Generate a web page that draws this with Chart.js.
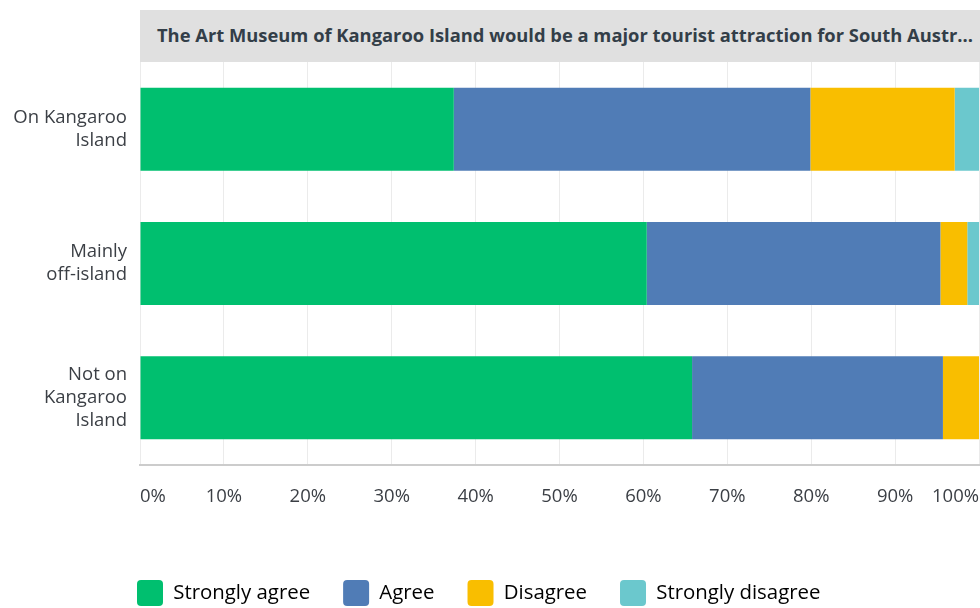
<!DOCTYPE html>
<html>
<head>
<meta charset="utf-8">
<script src="https://cdn.jsdelivr.net/npm/chart.js@4/dist/chart.umd.min.js"></script>
<style>
  html, body { margin: 0; padding: 0; background: #fff; }
  #wrap { position: relative; width: 980px; height: 608px; }
  #title {
    position: absolute; left: 140px; top: 10px; width: 823px; height: 52px;
    background: #e0e0e0; padding-left: 17px; box-sizing: content-box;
    font-family: "Open Sans", sans-serif; font-weight: 700; font-size: 18.35px;
    color: #333e48; line-height: 50px; white-space: nowrap; overflow: hidden;
  }
  canvas { position: absolute; left: 0; top: 0; }
</style>
</head>
<body>
<div id="wrap">
  <canvas id="c" width="980" height="608"></canvas>
  <div id="title">The Art Museum of Kangaroo Island would be a major tourist attraction for South Austr...</div>
</div>
<script>
const categories = [["On Kangaroo", "Island"], ["Mainly", "off-island"], ["Not on", "Kangaroo", "Island"]];
const seriesNames = ["Strongly agree", "Agree", "Disagree", "Strongly disagree"];
const stronglyAgree = [37.4, 60.4, 65.8];
const agree = [42.5, 35.0, 29.9];
const disagree = [17.2, 3.2, 4.3];
const stronglyDisagree = [2.9, 1.4, 0];
const tickValues = [0, 10, 20, 30, 40, 50, 60, 70, 80, 90, 100];
const colors = ["#00bf6f", "#507cb6", "#f9be00", "#6bc8cd"];

const seriesData = [stronglyAgree, agree, disagree, stronglyDisagree];
const font = "'Open Sans', sans-serif";
const textColor = '#3b3f45';

const legendShift = {
  id: 'legendShift',
  afterLayout(chart) {
    const lg = chart.legend;
    if (!lg) return;
    lg.left = 104;
    lg.top += 8;
    lg.bottom += 8;
    if (lg.adjustHitBoxes) lg.adjustHitBoxes();
  }
};

new Chart(document.getElementById('c'), {
  type: 'bar',
  data: {
    labels: categories,
    datasets: seriesNames.map((n, i) => ({
      label: n,
      data: seriesData[i],
      backgroundColor: colors[i],
      borderWidth: 0,
      barPercentage: 0.618,
      categoryPercentage: 1.0
    }))
  },
  plugins: [legendShift],
  options: {
    indexAxis: 'y',
    responsive: false,
    animation: false,
    layout: { padding: { top: 62, right: 1, left: 0, bottom: 0 } },
    plugins: {
      title: { display: false },
      tooltip: { enabled: false },
      legend: {
        position: 'bottom',
        align: 'start',
        labels: {
          boxWidth: 26,
          boxHeight: 26,
          padding: 33,
          color: textColor,
          font: { family: font, size: 20.4 },
          generateLabels(chart) {
            return chart.data.datasets.map((d, i) => ({
              text: d.label,
              fillStyle: d.backgroundColor,
              strokeStyle: d.backgroundColor,
              lineWidth: 0,
              borderRadius: 4,
              datasetIndex: i,
              hidden: false
            }));
          }
        }
      }
    },
    scales: {
      x: {
        stacked: true,
        min: 0,
        max: 100,
        afterBuildTicks(scale) { scale.ticks = tickValues.map(v => ({ value: v })); },
        afterFit(scale) { scale.height = 74; scale.paddingRight = 0; scale.paddingLeft = 0; },
        grid: { color: '#ebebeb', drawTicks: false, lineWidth: 1 },
        border: { color: '#cccccc', width: 2 },
        ticks: {
          align: 'inner',
          padding: 21,
          color: textColor,
          font: { family: font, size: 18.5 },
          callback: v => v + '%'
        }
      },
      y: {
        stacked: true,
        afterFit(scale) { scale.width = 140; },
        grid: { display: false, drawTicks: false },
        border: { display: false },
        ticks: {
          padding: 13,
          color: textColor,
          font: { family: font, size: 18.5, lineHeight: 1.25 }
        }
      }
    }
  }
});
</script>
</body>
</html>
